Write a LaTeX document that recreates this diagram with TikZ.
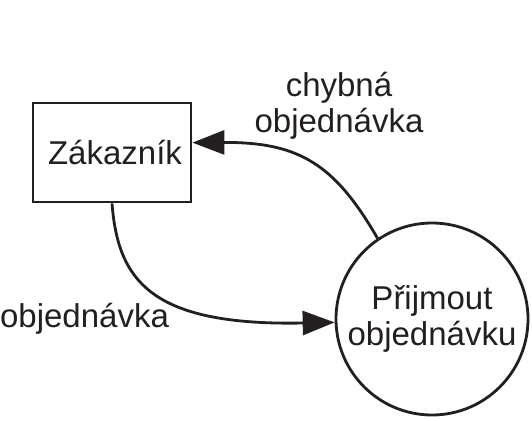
\documentclass[tikz,border=0pt]{standalone}
\usepackage{fontspec}
\setmainfont{Liberation Sans}
\usetikzlibrary{arrows.meta}
\definecolor{ink}{RGB}{35,31,32}
\begin{document}
\begin{tikzpicture}[x=1pt,y=-1pt,
  every node/.style={text=ink, font=\fontsize{33}{36}\selectfont},
  boxnode/.style={draw=ink, line width=2.8pt, minimum width=158pt, minimum height=99pt, inner sep=0pt},
  procnode/.style={circle, draw=ink, line width=2.8pt, minimum size=192pt, inner sep=0pt, align=center},
  flow/.style={draw=ink, line width=2.8pt, -{Triangle[length=32pt,width=24pt]}},
  lbl/.style={align=center, inner sep=0pt}]
\useasboundingbox (0,0) rectangle (532,420);
\node[boxnode] (zak) at (112,152.5) {\hspace{6pt}Zákazník};
\node[procnode] (proc) at (432,319) {Přijmout\\objednávku};
\node[lbl] (lchyb) at (339,106) {chybná\\objednávka};
\node[lbl, anchor=base] (lobj) at (84.5,327) {objednávka};
\draw[flow] (zak.south) .. controls (118,280) and (150,326) .. (proc.182);
\draw[flow] (proc.124) .. controls (335,165) and (300,142) .. (zak.7.6);
\end{tikzpicture}
\end{document}
